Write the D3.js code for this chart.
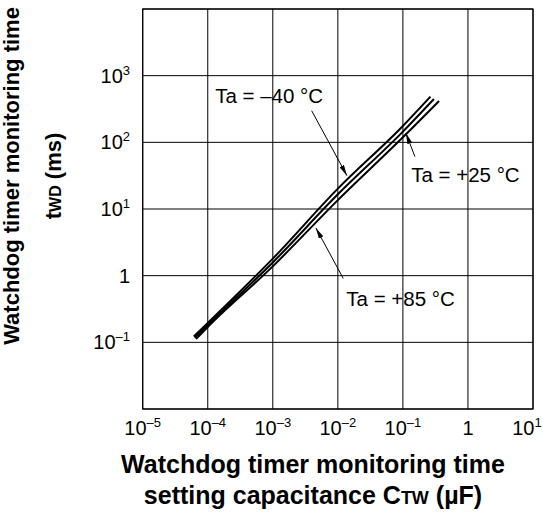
<!DOCTYPE html>
<html>
<head>
<meta charset="utf-8">
<script src="https://cdn.jsdelivr.net/npm/d3@7"></script>
<style>
  body { margin: 0; background: #fff; }
  text { font-family: "Liberation Sans", Arial, sans-serif; fill: #000; }
</style>
</head>
<body>
<svg id="chart" width="543" height="513"></svg>
<script>
// decades on each axis
const xTicks = [1e-5, 1e-4, 1e-3, 1e-2, 1e-1, 1, 10]
const yTicks = [1e-2, 1e-1, 1, 10, 100, 1000, 1e4]
const yLabelTicks = [1e-1, 1, 10, 100, 1000]

// curves (C in uF, t in ms)
const capM40 = [6.1e-5, 1e-4, 1e-3, 1e-2, 1e-1, 0.265]
const timeM40 = [0.122, 0.195, 1.8, 20.2, 176, 484]
const cap25 = [6.3e-5, 1e-4, 1e-3, 1e-2, 1e-1, 0.3]
const time25 = [0.117, 0.182, 1.58, 16.6, 145, 447]
const cap85 = [6.6e-5, 1e-4, 1e-3, 1e-2, 1e-1, 0.36]
const time85 = [0.112, 0.17, 1.38, 13.6, 119, 417]

// callouts: label start + arrow (from -> tip), data units
const noteText = ['Ta = –40 °C', 'Ta = +25 °C', 'Ta = +85 °C']
const noteAt = [[1.3e-4, 390], [0.134, 25.7], [0.0135, 0.351]]
const arrowFrom = [[3.96e-3, 298], [0.153, 61], [0.0121, 0.91]]
const arrowTo = [[0.0138, 31.6], [0.111, 138], [4.6e-3, 5.2]]

const svg = d3.select('#chart')
const plotLeft = 142.7, plotTop = 9, plotW = 390.3, plotH = 400

const x = d3.scaleLog().domain([1e-5, 10]).range([plotLeft, plotLeft + plotW])
const y = d3.scaleLog().domain([1e-2, 1e4]).range([plotTop + plotH, plotTop])

// grid
svg.append('g').selectAll('line')
  .data(xTicks)
  .enter()
  .append('line')
  .attr('x1', d => x(d)).attr('x2', d => x(d))
  .attr('y1', plotTop).attr('y2', plotTop + plotH)
  .attr('stroke', '#000').attr('stroke-width', 1)

svg.append('g').selectAll('line')
  .data(yTicks)
  .enter()
  .append('line')
  .attr('y1', d => y(d)).attr('y2', d => y(d))
  .attr('x1', plotLeft).attr('x2', plotLeft + plotW)
  .attr('stroke', '#000').attr('stroke-width', 1)

svg.append('rect')
  .attr('x', plotLeft).attr('y', plotTop).attr('width', plotW).attr('height', plotH)
  .attr('fill', 'none').attr('stroke', '#000').attr('stroke-width', 1.2)

// tick labels like 10^-3
let putPower = (sel, v) => {
  let e = Math.round(Math.log10(v))
  if (e === 0) { sel.text('1'); return }
  sel.append('tspan').text('10')
  sel.append('tspan')
    .attr('dy', -8)
    .attr('font-size', 13)
    .text(e < 0 ? '–' + (-e) : String(e))
}

svg.append('g').selectAll('text')
  .data(xTicks)
  .enter()
  .append('text')
  .attr('x', (d, i) => i === xTicks.length - 1 ? x(d) - 6 : x(d))
  .attr('y', 435)
  .attr('text-anchor', 'middle')
  .attr('font-size', 20)
  .each(function(d){ putPower(d3.select(this), d) })

svg.append('g').selectAll('text')
  .data(yLabelTicks)
  .enter()
  .append('text')
  .attr('x', 130)
  .attr('y', d => y(d) + 7)
  .attr('text-anchor', 'end')
  .attr('font-size', 20)
  .each(function(d){ putPower(d3.select(this), d) })

// curves
let line = d3.line()
  .x(d => x(d[0]))
  .y(d => y(d[1]))
  .curve(d3.curveMonotoneX)

let curves = [
  d3.zip(capM40, timeM40),
  d3.zip(cap25, time25),
  d3.zip(cap85, time85)
]

svg.append('g').selectAll('path')
  .data(curves)
  .enter()
  .append('path')
  .attr('d', line)
  .attr('fill', 'none')
  .attr('stroke', '#000')
  .attr('stroke-width', 2)

// arrows
svg.append('defs').append('marker')
  .attr('id', 'head')
  .attr('viewBox', '0 0 11 5')
  .attr('refX', 11).attr('refY', 2.5)
  .attr('markerWidth', 11).attr('markerHeight', 5)
  .attr('markerUnits', 'userSpaceOnUse')
  .attr('orient', 'auto')
  .append('path')
  .attr('d', 'M0,0L11,2.5L0,5Z')
  .attr('fill', '#000')

svg.append('g').selectAll('line')
  .data(d3.range(noteText.length))
  .enter()
  .append('line')
  .attr('x1', i => x(arrowFrom[i][0])).attr('y1', i => y(arrowFrom[i][1]))
  .attr('x2', i => x(arrowTo[i][0])).attr('y2', i => y(arrowTo[i][1]))
  .attr('stroke', '#000').attr('stroke-width', 1)
  .attr('marker-end', 'url(#head)')

svg.append('g').selectAll('text')
  .data(d3.range(noteText.length))
  .enter()
  .append('text')
  .attr('x', i => x(noteAt[i][0]))
  .attr('y', i => y(noteAt[i][1]))
  .attr('font-size', 20.5)
  .text(i => noteText[i])

// axis titles
let xTitle = svg.append('text')
  .attr('text-anchor', 'middle')
  .attr('font-size', 25)
  .attr('font-weight', 'bold')
xTitle.append('tspan').attr('x', 313).attr('y', 473).text('Watchdog timer monitoring time')
let xt2 = xTitle.append('tspan').attr('x', 313).attr('y', 504)
xt2.append('tspan').text('setting capacitance C')
xt2.append('tspan').attr('font-size', 18).text('TW')
xt2.append('tspan').text(' (µF)')

let yTitle = svg.append('text')
  .attr('transform', 'translate(0,176) rotate(-90)')
  .attr('text-anchor', 'middle')
  .attr('font-size', 22)
  .attr('font-weight', 'bold')
yTitle.append('tspan').attr('x', 0).attr('y', 19).text('Watchdog timer monitoring time')
let yt2 = yTitle.append('tspan').attr('x', 0).attr('y', 61)
yt2.append('tspan').text('t')
yt2.append('tspan').attr('font-size', 16).text('WD')
yt2.append('tspan').text(' (ms)')
</script>
</body>
</html>
